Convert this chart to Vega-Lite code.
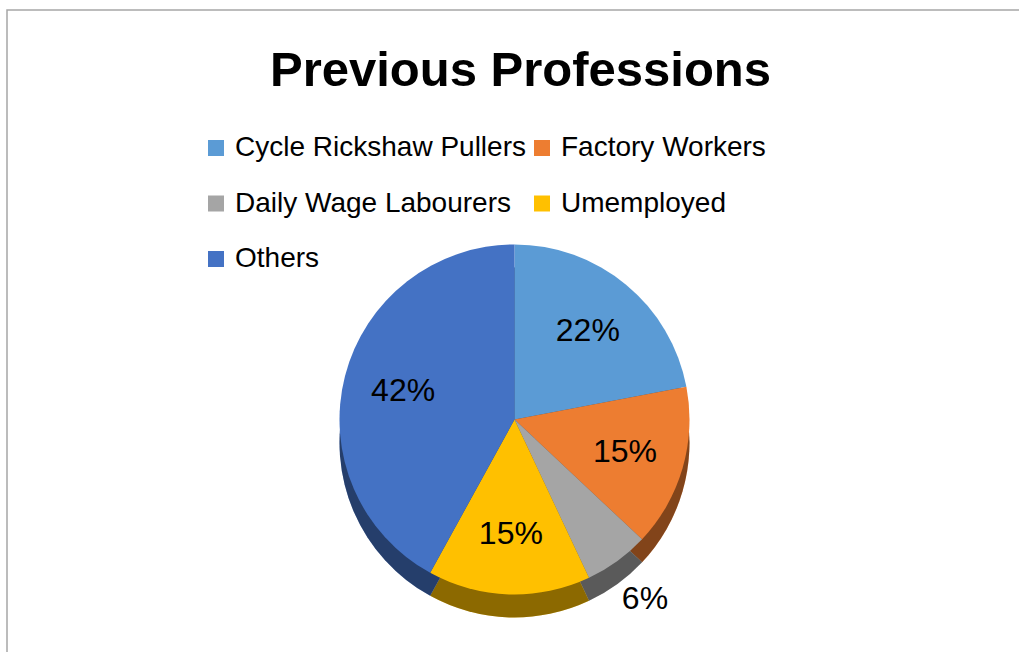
{
  "$schema": "https://vega.github.io/schema/vega-lite/v6.json",
  "width": 1019,
  "height": 652,
  "autosize": {"type": "fit", "contains": "padding"},
  "padding": {"left": 7, "top": 10, "right": -3, "bottom": -3},
  "background": "white",
  "view": {"stroke": "#A6A6A6", "strokeWidth": 1.5},
  "config": {"view": {"stroke": "#A6A6A6", "strokeWidth": 1.5}},
  "title": {"text": "Previous Professions", "font": "Liberation Sans", "fontSize": 49, "fontWeight": "bold", "color": "#000000", "offset": -86, "anchor": "middle", "dx": 6},
  "data": {"values": [
    {"profession": "Cycle Rickshaw Pullers", "value": 22, "label": "22%", "rank": 1},
    {"profession": "Factory Workers", "value": 15, "label": "15%", "rank": 2},
    {"profession": "Daily Wage Labourers", "value": 6, "label": "6%", "rank": 3},
    {"profession": "Umemployed", "value": 15, "label": "15%", "rank": 4},
    {"profession": "Others", "value": 42, "label": "42%", "rank": 5}
  ]},
  "layer": [
    {
      "mark": {"type": "arc", "outerRadius": 175, "y": {"expr": "height/2 + 110"}},
      "encoding": {
        "theta": {"field": "value", "type": "quantitative", "stack": true},
        "order": {"field": "rank", "type": "quantitative"},
        "color": {"field": "profession", "type": "nominal",
          "scale": {"domain": ["Cycle Rickshaw Pullers", "Factory Workers", "Daily Wage Labourers", "Umemployed", "Others"],
                    "range": ["#5B9BD5", "#ED7D31", "#A5A5A5", "#FFC000", "#4472C4"]},
          "legend": {"title": null, "orient": "none", "legendX": 195, "legendY": 124, "columns": 2, "direction": "horizontal",
            "symbolType": "square", "symbolSize": 256, "symbolStrokeWidth": 0, "symbolOpacity": 1,
            "labelFont": "Liberation Sans", "labelFontSize": 28, "labelColor": "#000000", "labelLimit": 400,
            "labelOffset": 5, "rowPadding": 27.5, "columnPadding": 2, "padding": 0}}
      }
    },
    {
      "mark": {"type": "arc", "outerRadius": 175, "y": {"expr": "height/2 + 110"}, "color": "#000000", "opacity": 0.45},
      "encoding": {
        "theta": {"field": "value", "type": "quantitative", "stack": true},
        "order": {"field": "rank", "type": "quantitative"}
      }
    },
    {
      "mark": {"type": "arc", "outerRadius": 175, "y": {"expr": "height/2 + 87"}},
      "encoding": {
        "theta": {"field": "value", "type": "quantitative", "stack": true},
        "order": {"field": "rank", "type": "quantitative"},
        "color": {"field": "profession", "type": "nominal"}
      }
    },
    {
      "mark": {"type": "text", "radius": 115, "y": {"expr": "height/2 + 87"}, "font": "Liberation Sans", "fontSize": 32, "color": "#000000"},
      "encoding": {
        "theta": {"field": "value", "type": "quantitative", "stack": true},
        "order": {"field": "rank", "type": "quantitative"},
        "text": {"field": "label"},
        "opacity": {"condition": {"test": "datum.rank == 3", "value": 0}, "value": 1}
      }
    },
    {
      "mark": {"type": "text", "radius": 222, "y": {"expr": "height/2 + 87"}, "font": "Liberation Sans", "fontSize": 32, "color": "#000000"},
      "encoding": {
        "theta": {"field": "value", "type": "quantitative", "stack": true},
        "order": {"field": "rank", "type": "quantitative"},
        "text": {"field": "label"},
        "opacity": {"condition": {"test": "datum.rank == 3", "value": 1}, "value": 0}
      }
    }
  ]
}
